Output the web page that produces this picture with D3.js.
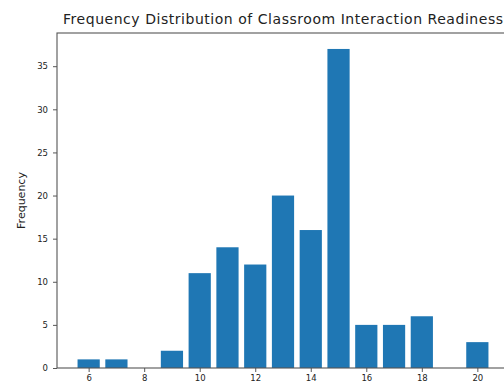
<!DOCTYPE html>
<html>
<head>
<meta charset="utf-8">
<script src="https://cdn.jsdelivr.net/npm/d3@7"></script>
<style>
  html, body { margin: 0; padding: 0; background: #fff; }
  svg { display: block; }
  text { font-family: "DejaVu Sans", sans-serif; fill: #222; }
</style>
</head>
<body>
<div id="chart"></div>
<script>
// Readiness score and how many students got it
const scores = [6, 7, 8, 9, 10, 11, 12, 13, 14, 15, 16, 17, 18, 19, 20];
const counts = [1, 1, 0, 2, 11, 14, 12, 20, 16, 37, 5, 5, 6, 0, 3];
const xTicks = [6, 8, 10, 12, 14, 16, 18, 20];
const yTicks = [0, 5, 10, 15, 20, 25, 30, 35];
const titleText = "Frequency Distribution of Classroom Interaction Readiness";
const yLabel = "Frequency";

const W = 504, H = 387;
const plot = { left: 57, right: 509, top: 33, bottom: 368 };
const barWidth = 0.8;

const svg = d3.select("#chart").append("svg")
  .attr("width", W).attr("height", H);

// data limits with a 5% margin, as a bar chart's axes usually get
const xMin = d3.min(scores) - barWidth / 2, xMax = d3.max(scores) + barWidth / 2;
const xPad = (xMax - xMin) * 0.05;
const x = d3.scaleLinear()
  .domain([xMin - xPad, xMax + xPad])
  .range([plot.left, plot.right]);
const y = d3.scaleLinear()
  .domain([0, d3.max(counts) * 1.05])
  .range([plot.bottom, plot.top]);

// bars
svg.append("g").selectAll("rect")
  .data(scores.map((s, i) => ({ s, c: counts[i] })))
  .join("rect")
  .attr("x", d => x(d.s - barWidth / 2))
  .attr("width", d => x(d.s + barWidth / 2) - x(d.s - barWidth / 2))
  .attr("y", d => y(d.c))
  .attr("height", d => y(0) - y(d.c))
  .attr("fill", "#1f77b4");

// axes
const xAxis = d3.axisBottom(x).tickValues(xTicks).tickSize(4).tickPadding(3).tickSizeOuter(0);
const yAxis = d3.axisLeft(y).tickValues(yTicks).tickSize(4).tickPadding(5).tickSizeOuter(0);

const gx = svg.append("g")
  .attr("transform", `translate(0,${plot.bottom})`)
  .call(xAxis);
const gy = svg.append("g")
  .attr("transform", `translate(${plot.left},0)`)
  .call(yAxis);

[gx, gy].forEach(g => {
  g.select(".domain").remove();
  g.selectAll(".tick line").attr("stroke", "#444").attr("stroke-width", 0.9);
  g.selectAll(".tick text").attr("font-size", 8.5).attr("fill", "#333")
    .style("font-family", "'DejaVu Sans', sans-serif");
});

// frame
svg.append("rect")
  .attr("x", plot.left).attr("y", plot.top)
  .attr("width", plot.right - plot.left)
  .attr("height", plot.bottom - plot.top)
  .attr("fill", "none")
  .attr("stroke", "#555")
  .attr("stroke-width", 1.1);

// title
svg.append("text")
  .attr("x", 63)
  .attr("y", 24)
  .attr("text-anchor", "start")
  .attr("font-size", 14)
  .attr("textLength", 440)
  .attr("lengthAdjust", "spacing")
  .text(titleText);

// y label
svg.append("text")
  .attr("transform", `translate(25,${(plot.top + plot.bottom) / 2}) rotate(-90)`)
  .attr("text-anchor", "middle")
  .attr("font-size", 11)
  .text(yLabel);
</script>
</body>
</html>
